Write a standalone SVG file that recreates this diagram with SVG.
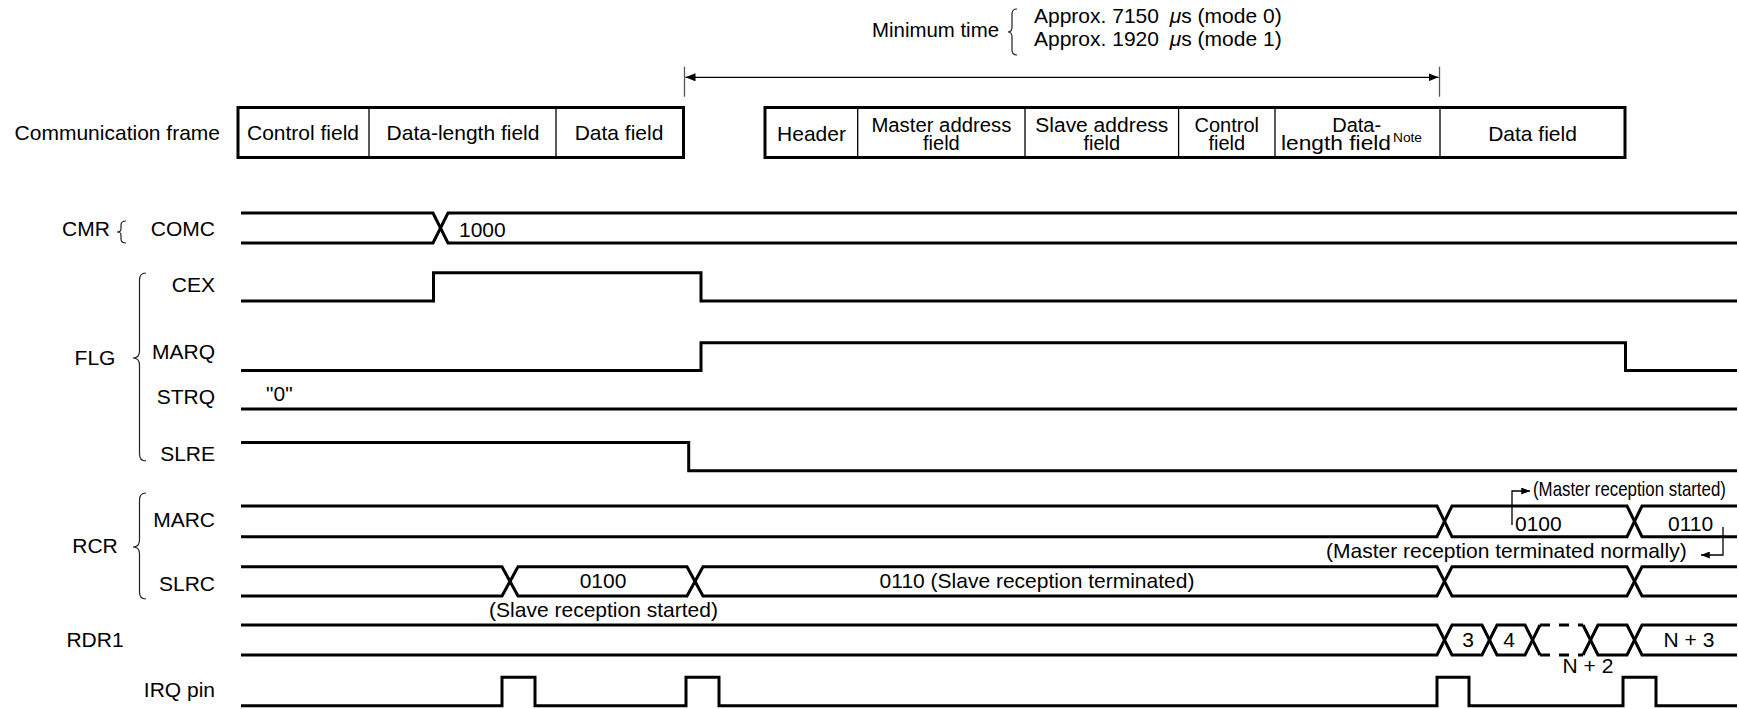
<svg xmlns="http://www.w3.org/2000/svg" width="1739" height="709" viewBox="0 0 1739 709">
<defs>
<style>
.t{font-family:"Liberation Sans",Arial,sans-serif;font-size:21px;fill:#000}
.s2{font-size:20px}
.m{text-anchor:middle}
.e{text-anchor:end}
.sig{fill:none;stroke:#000;stroke-width:3;stroke-linejoin:miter;stroke-linecap:butt}
.dash{fill:none;stroke:#000;stroke-width:3;stroke-dasharray:10 9}
.box{fill:#fff;stroke:#000;stroke-width:3}
.div{stroke:#000;stroke-width:1.3}
.thin{fill:none;stroke:#000;stroke-width:1.3}
.tick{stroke:#555;stroke-width:1.3}
.brace{fill:none;stroke:#222;stroke-width:1.2}
</style>
<marker id="ah" viewBox="0 0 10 8" refX="10" refY="4" markerWidth="10" markerHeight="8" markerUnits="userSpaceOnUse" orient="auto">
<path d="M0,0 L10,4 L0,8 Z" fill="#000"/>
</marker>
<marker id="ahs" viewBox="0 0 10 8" refX="10" refY="4" markerWidth="9" markerHeight="7" markerUnits="userSpaceOnUse" orient="auto">
<path d="M0,0 L10,4 L0,8 Z" fill="#000"/>
</marker>
</defs>
<rect width="1739" height="709" fill="#fff"/>

<g id="min-time">
<text class="t e" x="999" y="37" textLength="127" lengthAdjust="spacingAndGlyphs">Minimum time</text>
<path class="brace" d="M1017 9 Q1012 9 1012 14 L1012 27 Q1012 32 1008 32 Q1012 32 1012 37 L1012 50 Q1012 55 1017 55"/>
<text class="t" x="1034" y="23">Approx. 7150 <tspan dx="5" font-style="italic">μ</tspan>s (mode 0)</text>
<text class="t" x="1034" y="46">Approx. 1920 <tspan dx="5" font-style="italic">μ</tspan>s (mode 1)</text>
</g>

<g id="frame-label">
<text class="t e" x="220" y="140">Communication frame</text>
</g>

<g id="frame1">
<rect class="box" x="238" y="107.5" width="445.5" height="50"/>
<line class="div" x1="369" y1="107.5" x2="369" y2="157.5"/>
<line class="div" x1="556" y1="107.5" x2="556" y2="157.5"/>
<text class="t m" x="303" y="140">Control field</text>
<text class="t m" x="463" y="140">Data-length field</text>
<text class="t m" x="619" y="140">Data field</text>
</g>

<g id="frame2">
<rect class="box" x="765" y="107.5" width="860" height="50"/>
<line class="div" x1="857.7" y1="107.5" x2="857.7" y2="157.5"/>
<line class="div" x1="1025" y1="107.5" x2="1025" y2="157.5"/>
<line class="div" x1="1178.6" y1="107.5" x2="1178.6" y2="157.5"/>
<line class="div" x1="1275" y1="107.5" x2="1275" y2="157.5"/>
<line class="div" x1="1440" y1="107.5" x2="1440" y2="157.5"/>
<text class="t m" x="811.5" y="141">Header</text>
<text class="t s2 m" x="941.4" y="132" textLength="140" lengthAdjust="spacingAndGlyphs">Master address</text>
<text class="t s2 m" x="941.4" y="150">field</text>
<text class="t s2 m" x="1101.8" y="132" textLength="133" lengthAdjust="spacingAndGlyphs">Slave address</text>
<text class="t s2 m" x="1101.8" y="150">field</text>
<text class="t s2 m" x="1226.8" y="132">Control</text>
<text class="t s2 m" x="1226.8" y="150">field</text>
<text class="t s2 m" x="1356.7" y="132">Data-</text>
<text class="t s2" x="1281" y="150" textLength="110" lengthAdjust="spacingAndGlyphs">length field</text>
<text class="t" x="1393" y="141.5" style="font-size:12px" textLength="29" lengthAdjust="spacingAndGlyphs">Note</text>
<text class="t m" x="1532.5" y="141">Data field</text>
</g>

<g id="labels">
<text class="t m" x="86" y="236">CMR</text>
<path class="brace" d="M126 221 Q121 221 121 225 L121 229 Q121 232 117 232 Q121 232 121 235 L121 239 Q121 243 126 243"/>
<text class="t e" x="215" y="236">COMC</text>
<text class="t m" x="95" y="365">FLG</text>
<path class="brace" d="M146 273 Q139.5 273 139.5 280 L139.5 351 Q139.5 358 133 358 Q139.5 358 139.5 365 L139.5 454 Q139.5 461 146 461"/>
<text class="t e" x="215" y="292">CEX</text>
<text class="t e" x="215" y="359">MARQ</text>
<text class="t e" x="215" y="404">STRQ</text>
<text class="t e" x="215" y="461">SLRE</text>
<text class="t m" x="95" y="553">RCR</text>
<path class="brace" d="M146 493 Q139.5 493 139.5 500 L139.5 540 Q139.5 547 133 547 Q139.5 547 139.5 554 L139.5 592 Q139.5 599 146 599"/>
<text class="t e" x="215" y="527">MARC</text>
<text class="t e" x="215" y="591">SLRC</text>
<text class="t m" x="95" y="647">RDR1</text>
<text class="t e" x="215" y="697">IRQ pin</text>
</g>

<g id="sig-comc">
<path class="sig" d="M241 213 H433 L448 243 H1737"/>
<path class="sig" d="M241 243 H433 L448 213 H1737"/>
<text class="t" x="459" y="237">1000</text>
</g>

<g id="sig-cex">
<path class="sig" d="M241 301 H433.5 V272.7 H701 V301 H1737"/>
</g>

<g id="sig-marq">
<path class="sig" d="M241 370.5 H701 V342.7 H1625.5 V370.5 H1737"/>
</g>

<g id="sig-strq">
<path class="sig" d="M241 409 H1737"/>
<text class="t" x="266" y="401">"0"</text>
</g>

<g id="sig-slre">
<path class="sig" d="M241 442.5 H688.7 V470.7 H1737"/>
</g>

<g id="sig-marc">
<path class="sig" d="M241 506 H1437 L1452 536.7 H1627 L1642 506 H1737"/>
<path class="sig" d="M241 536.7 H1437 L1452 506 H1627 L1642 536.7 H1737"/>
<text class="t" x="1515" y="530.7">0100</text>
<text class="t" x="1668" y="530.7">0110</text>
</g>

<g id="sig-slrc">
<path class="sig" d="M241 566.7 H502 L518 596 H687 L703 566.7 H1437 L1452 596 H1627 L1642 566.7 H1737"/>
<path class="sig" d="M241 596 H502 L518 566.7 H687 L703 596 H1437 L1452 566.7 H1627 L1642 596 H1737"/>
<text class="t m" x="603" y="588.3">0100</text>
<text class="t m" x="1037" y="588.3">0110 (Slave reception terminated)</text>
<text class="t m" x="603.5" y="616.7">(Slave reception started)</text>
</g>

<g id="sig-rdr1">
<path class="sig" d="M241 625 H1437 L1452 655 H1482 L1497 625 H1525 L1540 655"/>
<path class="sig" d="M241 655 H1437 L1452 625 H1482 L1497 655 H1525 L1540 625"/>
<path class="dash" d="M1540 625 H1583"/>
<path class="dash" d="M1540 655 H1583"/>
<path class="sig" d="M1583 625 L1598 655 H1627 L1642 625 H1737"/>
<path class="sig" d="M1583 655 L1598 625 H1627 L1642 655 H1737"/>
<text class="t m" x="1468" y="646.7">3</text>
<text class="t m" x="1509" y="646.7">4</text>
<text class="t m" x="1689" y="646.7">N + 3</text>
<text class="t m" x="1588" y="673.3">N + 2</text>
</g>

<g id="sig-irq">
<path class="sig" d="M241 705.7 H502 V677.3 H535 V705.7 H686 V677.3 H719 V705.7 H1437 V677.3 H1469 V705.7 H1623 V677.3 H1656 V705.7 H1737"/>
</g>

<g id="connectors">
<line class="tick" x1="684.5" y1="66.7" x2="684.5" y2="96.7"/>
<line class="tick" x1="1439.5" y1="66.7" x2="1439.5" y2="96.7"/>
<line class="thin" x1="1000" y1="77.3" x2="685.5" y2="77.3" marker-end="url(#ah)"/>
<line class="thin" x1="1000" y1="77.3" x2="1438.5" y2="77.3" marker-end="url(#ah)"/>
<path class="thin" d="M1512 525 V491 H1530" marker-end="url(#ahs)"/>
<text class="t" style="font-size:20px" transform="translate(1533 496) scale(0.843 1)" x="0" y="0">(Master reception started)</text>
<path class="thin" d="M1723 527 V555 H1701" marker-end="url(#ahs)"/>
<text class="t" x="1326" y="558.3">(Master reception terminated normally)</text>
</g>
</svg>
